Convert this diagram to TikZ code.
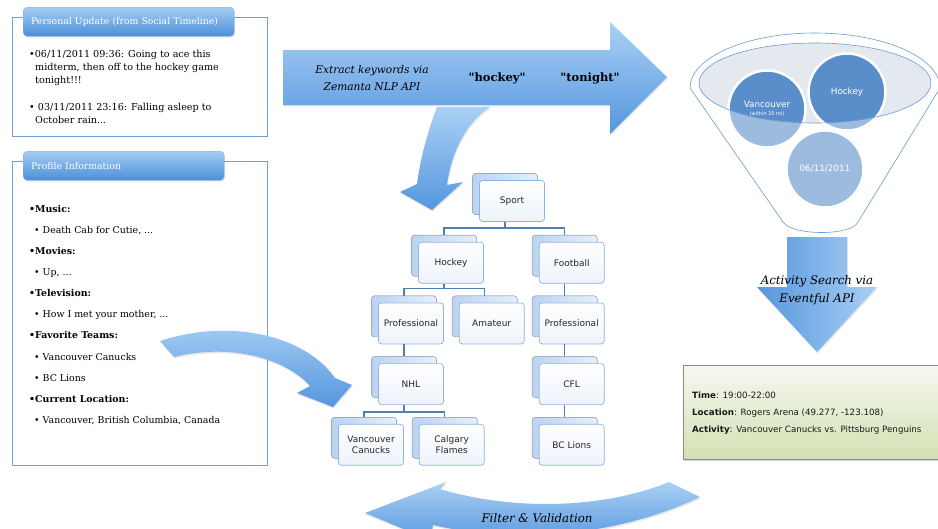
\documentclass[tikz,border=0pt]{standalone}
\usepackage{fontspec}
\setmainfont{DejaVu Serif}
\setsansfont{DejaVu Sans}
\newfontfamily\kwfont{DejaVu Serif}[Ligatures=TeXOff]
\usepackage{xcolor}
\usetikzlibrary{positioning,shadows}

\definecolor{tabtop}{HTML}{A6CDF4}
\definecolor{tabbot}{HTML}{4A8FD8}
\definecolor{boxline}{HTML}{6F9FD3}
\definecolor{arrowtop}{HTML}{AAD0F5}
\definecolor{arrowbot}{HTML}{5596DE}
\definecolor{treeline}{HTML}{4F80B3}
\definecolor{frontdraw}{HTML}{8DB3E2}
\definecolor{frontfill}{HTML}{EEF3FA}
\definecolor{backdraw}{HTML}{A2ABBA}
\definecolor{backfill}{HTML}{BBD3F2}
\definecolor{circfill}{HTML}{5A8ECB}
\definecolor{ellfill}{HTML}{E4E9F0}
\definecolor{funnelline}{HTML}{6B9BD1}
\definecolor{resulttop}{HTML}{F6F8EF}
\definecolor{resultbot}{HTML}{D2E1B3}

\begin{document}
\begin{tikzpicture}[x=1pt,y=-1pt,
    treebox/.style={rectangle, rounded corners=3pt, minimum width=65pt,
      minimum height=41pt, inner sep=2pt, align=center,
      font=\sffamily\fontsize{9}{10.5}\selectfont, text=black!85,
      draw=frontdraw, line width=0.7pt, top color=white, bottom color=frontfill,
      copy shadow={shadow xshift=-7pt, shadow yshift=7pt, draw=backdraw,
        line width=0.6pt, left color=backfill, right color=backfill!35}},
    link/.style={draw=treeline, line width=1.5pt},
    tab/.style={rectangle, rounded corners=4pt, anchor=north west,
      top color=tabtop, bottom color=tabbot, draw=tabbot!70, line width=0.3pt,
      text=white, font=\fontsize{9.3}{10}\selectfont, align=left,
      inner xsep=8pt, minimum height=29pt,
      drop shadow={opacity=0.3, shadow xshift=0.8pt, shadow yshift=-1.2pt}},
    frame/.style={draw=boxline, line width=0.8pt},
    body/.style={anchor=north west, inner sep=0pt, align=left,
      font=\fontsize{9.6}{13}\selectfont, text=black},
    bigarrow/.style={top color=arrowtop, bottom color=arrowbot,
      drop shadow={opacity=0.2, shadow xshift=0.8pt, shadow yshift=-1.5pt}},
    circ/.style={circle, minimum size=77pt, inner sep=0pt, fill=circfill,
      draw=white, line width=2.5pt, text=white, align=center,
      font=\sffamily\fontsize{8.8}{10}\selectfont,
      drop shadow={opacity=0.3, shadow xshift=0.5pt, shadow yshift=-1pt}},
    funnel/.style={draw=funnelline, line width=0.6pt},
    label/.style={align=center, inner sep=0pt, font=\itshape\fontsize{11.8}{18}\selectfont},
    keyword/.style={inner sep=0pt, font=\kwfont\bfseries\fontsize{11.5}{12}\selectfont}
  ]
  \useasboundingbox (0,0) rectangle (938,528);
  \clip (0,0) rectangle (938,528);

  % social timeline
  \draw[frame] (12,17) rectangle (267,136);
  \node[tab, text width=195pt] (tabpost) at (23,7) {Personal Update (from Social Timeline)};
  \node[body] (posts) at (29,50) {%
    •06/11/2011 09:36: Going to ace this\\
    \hspace*{6pt}midterm, then off to the hockey game\\
    \hspace*{6pt}tonight!!!\\[14pt]
    • 03/11/2011 23:16: Falling asleep to\\
    \hspace*{6pt}October rain...};

  % profile
  \draw[frame] (12,161) rectangle (267,465);
  \node[tab, text width=185pt] (tabprofile) at (23,151) {Profile Information};
  \node[body, font=\fontsize{9.4}{21.1}\selectfont] (likes) at (29,205) {%
    \textbf{•Music:}\\
    \hspace*{5pt}• Death Cab for Cutie, ...\\
    \textbf{•Movies:}\\
    \hspace*{5pt}• Up, ...\\
    \textbf{•Television:}\\
    \hspace*{5pt}• How I met your mother, ...\\
    \textbf{•Favorite Teams:}\\
    \hspace*{5pt}• Vancouver Canucks\\
    \hspace*{5pt}• BC Lions\\
    \textbf{•Current Location:}\\
    \hspace*{5pt}• Vancouver, British Columbia, Canada};

  % arrows
  \shade[bigarrow] (437,107) .. controls (428,130) and (420,160) .. (417,184)
    -- (400,192) -- (432,210) -- (463,182) -- (447,185)
    .. controls (450,160) and (462,125) .. (490,107) -- cycle;
  \shade[bigarrow] (283,50) -- (610,50) -- (610,22) -- (667,77) -- (610,134)
    -- (610,105) -- (283,105) -- cycle;
  \node[label, font=\itshape\fontsize{10.6}{17}\selectfont] (extract) at (372,78) {Extract keywords via\\Zemanta NLP API};
  \node[keyword] (kwhockey) at (497,78) {"hockey"};
  \node[keyword] (kwtonight) at (590,78) {"tonight"};

  \shade[bigarrow] (160,341) .. controls (230,318) and (305,335) .. (335,378)
    -- (352,385) -- (333,407) -- (297,393) -- (310,386)
    .. controls (285,358) and (230,343) .. (174,357) -- cycle;

  \shade[bigarrow] (669,482) .. controls (600,510) and (510,510) .. (440,489)
    -- (446,482) -- (365,513) -- (430,540) -- (433,525)
    .. controls (520,545) and (620,535) .. (700,497) -- cycle;
  \node[label] (filter) at (537,518) {Filter \& Validation};

  \shade[left color=arrowbot, right color=arrowtop,
    drop shadow={opacity=0.2, shadow xshift=0.8pt, shadow yshift=-1.5pt}]
    (787,237) -- (847,237) -- (847,287) -- (877,287) -- (817,352)
    -- (757,287) -- (787,287) -- cycle;
  \node[label] (search) at (817,290) {Activity Search via\\Eventful API};

  % funnel
  \fill[ellfill] (815,83) ellipse [x radius=116, y radius=40];
  \node[circ] (vanc) at (767,109) {Vancouver\\[-2pt]{\fontsize{5}{6}\selectfont (within 25 mi)}};
  \node[circ] (hock) at (847,92) {Hockey};
  \node[circ] (date) at (825,169) {06/11/2011};
  \fill[white, fill opacity=0.4, even odd rule] (690,28) -- (690,88) -- (783,222)
    .. controls (792,236) and (852,236) .. (858,222) -- (940,88) -- (940,28) -- cycle
    (815,83) ellipse [x radius=116, y radius=40];
  \draw[funnel] (815,83) ellipse [x radius=116, y radius=40];
  \draw[funnel] (690,88) arc[start angle=180, end angle=360, x radius=125, y radius=55];
  \draw[funnel] (690,88) -- (783,222) .. controls (792,236) and (852,236) .. (858,222) -- (940,88);

  % result
  \node[rectangle, anchor=north west, minimum width=262pt, minimum height=94pt,
    top color=resulttop, bottom color=resultbot, draw=black!45, line width=0.6pt,
    drop shadow={opacity=0.35, shadow xshift=1pt, shadow yshift=-1.5pt}] (result) at (683,365) {};
  \node[anchor=west, align=left, inner sep=0pt, text=black!90,
    font=\sffamily\fontsize{8.7}{17}\selectfont] (event) at (692,413) {%
    \textbf{Time}: 19:00-22:00\\
    \textbf{Location}: Rogers Arena (49.277, -123.108)\\
    \textbf{Activity}: Vancouver Canucks vs. Pittsburg Penguins};

  % category tree
  \node[treebox] (sport) at (512,201) {Sport};
  \node[treebox, below=20pt of sport, xshift=-61pt] (hockey) {Hockey};
  \node[treebox, right=55pt of hockey] (football) {Football};
  \node[treebox, below=19pt of hockey, xshift=-40pt] (pro1) {Professional};
  \node[treebox, right=15pt of pro1] (amateur) {Amateur};
  \node[treebox, below=19pt of football] (pro2) {Professional};
  \node[treebox, below=19pt of pro1] (nhl) {NHL};
  \node[treebox, below=19pt of pro2] (cfl) {CFL};
  \node[treebox, below=19pt of nhl, xshift=-40pt] (canucks) {Vancouver\\Canucks};
  \node[treebox, right=15pt of canucks] (flames) {Calgary\\Flames};
  \node[treebox, below=19pt of cfl] (bclions) {BC Lions};

  \path[link] ([xshift=-7pt]sport.south) -- ++(0,6) -| ([shift={(-7pt,7pt)}]hockey.north);
  \path[link] ([xshift=-7pt]sport.south) -- ++(0,6) -| ([shift={(-7pt,7pt)}]football.north);
  \path[link] ([xshift=-7pt]hockey.south) -- ++(0,5) -| ([shift={(-7pt,7pt)}]pro1.north);
  \path[link] ([xshift=-7pt]hockey.south) -- ++(0,5) -| ([shift={(-7pt,7pt)}]amateur.north);
  \path[link] ([xshift=-7pt]football.south) -- ([shift={(-7pt,7pt)}]pro2.north);
  \path[link] ([xshift=-7pt]pro1.south) -- ([shift={(-7pt,7pt)}]nhl.north);
  \path[link] ([xshift=-7pt]pro2.south) -- ([shift={(-7pt,7pt)}]cfl.north);
  \path[link] ([xshift=-7pt]nhl.south) -- ++(0,7) -| ([shift={(-7pt,7pt)}]canucks.north);
  \path[link] ([xshift=-7pt]nhl.south) -- ++(0,7) -| ([shift={(-7pt,7pt)}]flames.north);
  \path[link] ([xshift=-7pt]cfl.south) -- ([shift={(-7pt,7pt)}]bclions.north);
\end{tikzpicture}
\end{document}
